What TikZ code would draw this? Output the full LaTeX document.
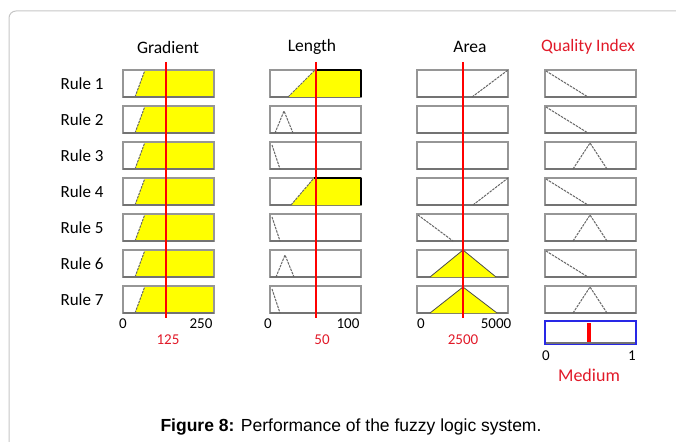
\documentclass[tikz,border=0pt]{standalone}
\usepackage{fontspec}
\setmainfont{Carlito}
\newfontfamily\capfont{Liberation Sans}
\usepackage{xcolor}
\usepackage{tikz}
\usetikzlibrary{positioning}

\definecolor{mfyellow}{RGB}{255,255,0}
\definecolor{boxgray}{RGB}{150,150,150}
\definecolor{outblue}{RGB}{40,40,230}
\definecolor{idxred}{RGB}{225,25,40}

\tikzset{
  mfbox/.style={draw=boxgray, line width=1.5pt},
  mfline/.style={draw=black!60, dash pattern=on 2.5pt off 1pt, line width=1pt},
  mffill/.style={fill=mfyellow},
  head/.style={font=\fontsize{17.5}{19}\selectfont},
  rulelab/.style={anchor=west, font=\fontsize{17}{19}\selectfont},
  ticklab/.style={font=\fontsize{15}{17}\selectfont},
  value/.style={text=idxred, font=\fontsize{15}{17}\selectfont},
  cursor/.style={draw=red, line width=1.4pt}
}

\begin{document}
\begin{tikzpicture}[x=1pt, y=-1pt]
\useasboundingbox (0,0) rectangle (676,441);
\draw[gray!45, line width=1pt, rounded corners=7pt] (700,11) -- (9,11) -- (9,460);

% column heads
\node[head] (grad) at (168,47) {Gradient};
\node[head] (len) at (312,47) {Length};
\node[head] (area) at (470,47) {Area};
\node[head, text=idxred] (qi) at (588,47) {Quality Index};

% rows
\foreach \i/\t in {1/70,2/106,3/142,4/178,5/214,6/250,7/286}{
  \node[rulelab] (r\i) at (57,\t+13.5) {Rule \i};
  % gradient: same set on every rule
  \fill[mffill] (135,\t+27) -- (145,\t) -- (213,\t) -- (213,\t+27) -- cycle;
  \draw[mfline] (135,\t+27) -- (145,\t);
  \draw[line width=1.2pt] (145,\t) -- (213,\t);
  \foreach \x in {123,270,417,545}{
    \draw[mfbox] (\x,\t) rectangle (\x+91,\t+27);
    \draw[black!55, line width=2.2pt] (\x,\t+27) -- (\x+91,\t+27);
  }
}

% length
\fill[mffill] (288,97) -- (315,70) -- (361,70) -- (361,97) -- cycle;
\draw[mfline] (288,97) -- (315,70);
\draw[line width=1.2pt] (315,70) -- (361,70);
\draw[line width=2pt] (361,70) -- (361,97);
\fill[mffill] (291,205) -- (314,178) -- (361,178) -- (361,205) -- cycle;
\draw[mfline] (291,205) -- (314,178);
\draw[line width=1.2pt] (314,178) -- (361,178);
\draw[line width=2pt] (361,178) -- (361,205);
\draw[mfline] (275,133) -- (284,111) -- (293,133);
\draw[mfline] (276,277) -- (285,255) -- (294,277);
\draw[mfline] (272,145) -- (280,169);
\draw[mfline] (272,217) -- (280,241);
\draw[mfline] (272,289) -- (280,313);

% area
\draw[mfline] (472,97) -- (508,70);
\draw[mfline] (473,205) -- (508,178);
\draw[mfline] (418,215) -- (453,241);
\fill[mffill] (430,277) -- (463,250) -- (496,277) -- cycle;
\draw[black!70, line width=0.8pt] (430,277) -- (463,250) -- (496,277);
\fill[mffill] (430,313) -- (463,287) -- (497,313) -- cycle;
\draw[black!70, line width=0.8pt] (430,313) -- (463,287) -- (497,313);

% quality index
\draw[mfline] (546,71) -- (588,97);
\draw[mfline] (546,107) -- (588,133);
\draw[mfline] (573,169) -- (590,143) -- (607,169);
\draw[mfline] (546,179) -- (588,205);
\draw[mfline] (573,241) -- (590,215) -- (607,241);
\draw[mfline] (546,251) -- (588,277);
\draw[mfline] (573,313) -- (590,287) -- (607,313);

% input cursors
\draw[cursor, line width=1.9pt] (166,62) -- (166,318);
\draw[cursor, line width=1.5pt] (316,62) -- (316,318);
\draw[cursor, line width=1.3pt] (463,62) -- (463,318);

% output
\draw[draw=outblue, line width=1.2pt] (545,321) rectangle (636,344);
\draw[black!55, line width=1.5pt] (546,343) -- (635,343);
\draw[red, line width=3.5pt] (589,323) -- (589,342);

% axes
\node[ticklab] (g0) at (123,324) {0};
\node[ticklab] (g1) at (201,324) {250};
\node[ticklab] (l0) at (268,324) {0};
\node[ticklab] (l1) at (348,324) {100};
\node[ticklab] (a0) at (421,324) {0};
\node[ticklab] (a1) at (496,324) {5000};
\node[ticklab] (q0) at (546,356) {0};
\node[ticklab] (q1) at (632,356) {1};

\node[value] (gv) at (168,340) {125};
\node[value] (lv) at (322,340) {50};
\node[value] (av) at (463,340) {2500};
\node[value, font=\fontsize{18}{20}\selectfont] (qv) at (589,375) {Medium};

\node[font=\capfont\fontsize{17.5}{20}\selectfont] (cap) at (351,427) {\textbf{Figure 8:} Performance of the fuzzy logic system.};
\end{tikzpicture}
\end{document}
